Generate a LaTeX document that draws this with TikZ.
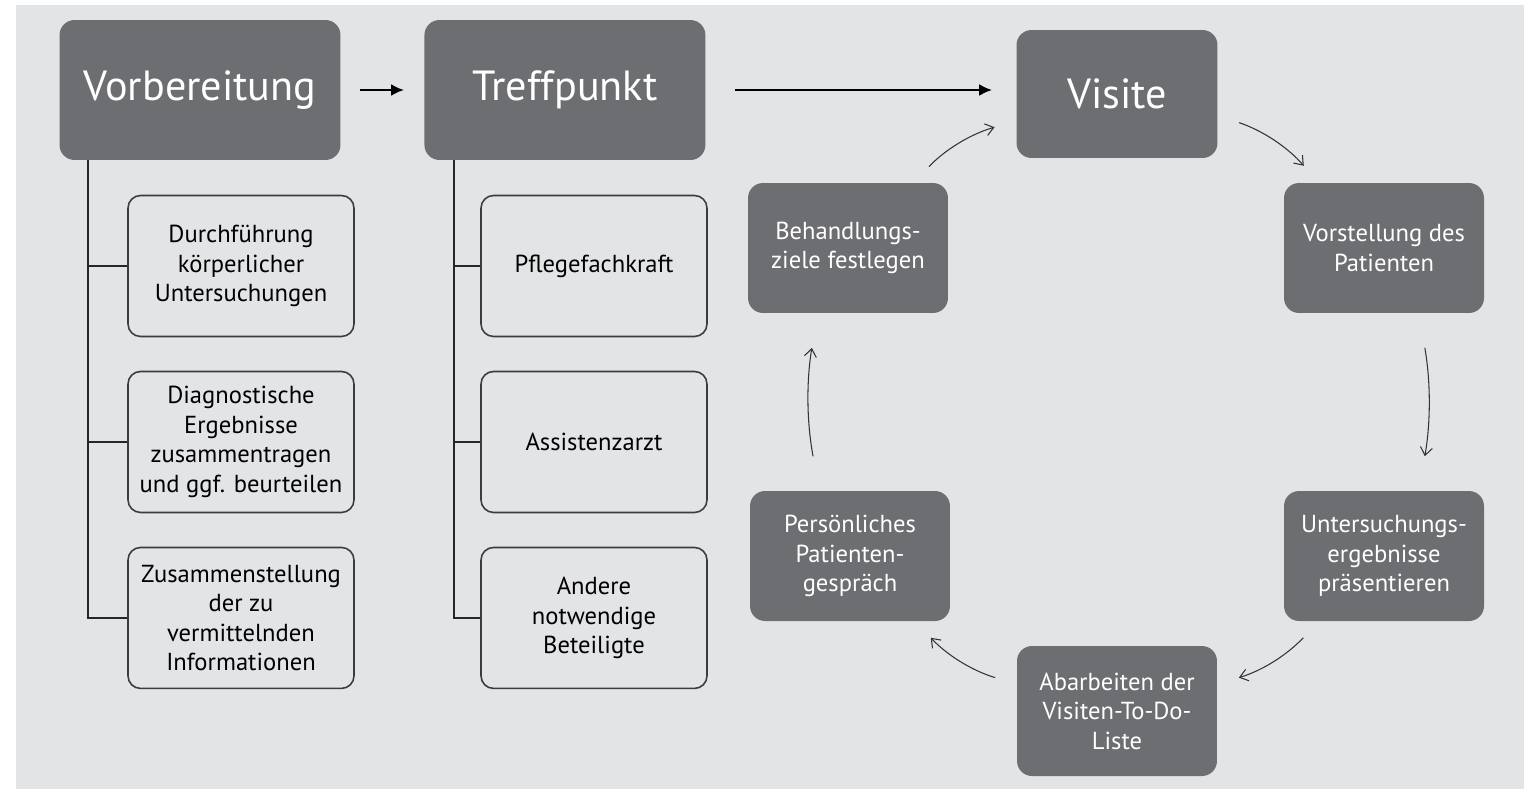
\documentclass[tikz,border=0pt]{standalone}
\usepackage{fontspec}
\setmainfont{PT Sans}
\usepackage{xcolor}
\usepackage{tikz}
\usetikzlibrary{arrows.meta,positioning,calc}

\definecolor{boxgray}{RGB}{109,110,113}
\definecolor{bggray}{RGB}{227,228,230}
\definecolor{linegray}{RGB}{60,60,62}

\tikzset{
	head/.style={rectangle, rounded corners=0.3cm, fill=boxgray, text=white,
		font=\fontsize{24}{29}\selectfont, minimum width=5.62cm, minimum height=2.8cm},
	sub/.style={rectangle, draw=linegray, line width=0.9pt, rounded corners=0.25cm,
		align=center, font=\fontsize{14}{16.8}\selectfont,
		minimum width=4.52cm, minimum height=2.82cm},
	cyc/.style={rectangle, rounded corners=0.3cm, fill=boxgray, text=white,
		align=center, font=\fontsize{14}{16.8}\selectfont,
		minimum width=4cm, minimum height=2.6cm},
	tree/.style={line width=1.2pt, draw=black!85},
	flow/.style={line width=1.5pt, -{Latex[length=2.6mm,width=2.4mm]}},
	ring/.style={line width=0.6pt, draw=black!80, shorten <=0.45cm, shorten >=0.45cm,
		-{Straight Barb[length=1.6mm,width=2.4mm]}, bend left=15}
}

\begin{document}
\begin{tikzpicture}[x=0.02cm, y=0.02cm, node distance=3.52cm]
			% background
			\fill[bggray] (16,-5) rectangle (1524,-789);
			\useasboundingbox (0,0) rectangle (1524,-789);

			% top row
			\node[head] (vorb) at (200,-90) {Vorbereitung};
			\node[head, right of=vorb, node distance=7.3cm] (treff) {Treffpunkt};
			\node[head, minimum width=4.02cm, minimum height=2.56cm] (visite) at (1117,-94) {Visite};

			\draw[flow, shorten <=0.38cm, shorten >=0.4cm] (vorb) -- (treff);
			\draw[flow, shorten <=0.58cm, shorten >=0.48cm] (treff.east) -- (treff.east -| visite.west);

			% Vorbereitung
			\node[sub] (d1) at (241,-266) {Durchführung\\körperlicher\\Untersuchungen};
			\node[sub, below of=d1] (d2) {Diagnostische\\Ergebnisse\\zusammentragen\\und ggf. beurteilen};
			\node[sub, below of=d2] (d3) {Zusammenstellung\\der zu\\vermittelnden\\Informationen};

			\coordinate (vtop) at ([xshift=0.58cm]vorb.south west);
			\draw[tree] (vtop) |- (d3.west);
			\foreach \d in {d1,d2}
				\draw[tree] (\d.west) -- (\d.west -| vtop);

			% Treffpunkt
			\node[sub] (t1) at (594,-266) {Pflegefachkraft};
			\node[sub, below of=t1] (t2) {Assistenzarzt};
			\node[sub, below of=t2] (t3) {Andere\\notwendige\\Beteiligte};

			\coordinate (ttop) at ([xshift=0.6cm]treff.south west);
			\draw[tree] (ttop) |- (t3.west);
			\foreach \t in {t1,t2}
				\draw[tree] (\t.west) -- (\t.west -| ttop);

			% Visite cycle
			\node[cyc] (beh) at (848,-248) {Behandlungs-\\ziele festlegen};
			\node[cyc] (vor) at (1384,-248) {Vorstellung des\\Patienten};
			\node[cyc] (unt) at (1384,-556) {Untersuchungs-\\ergebnisse\\präsentieren};
			\node[cyc] (aba) at (1117,-711) {Abarbeiten der\\Visiten-To-Do-\\Liste};
			\node[cyc] (per) at (850,-556) {Persönliches\\Patienten-\\gespräch};

			\draw[ring] (visite.-12) to (vor.135);
			\draw[ring, bend left=10, shorten <=0.7cm, shorten >=0.7cm] (vor.-62) to (unt.62);
			\draw[ring] (unt.-135) to (aba.15);
			\draw[ring] (aba.165) to (per.-45);
			\draw[ring, bend left=10, shorten <=0.7cm, shorten >=0.7cm] (per.115) to (beh.-115);
			\draw[ring] (beh.45) to (visite.-165);
		\end{tikzpicture}
\end{document}
